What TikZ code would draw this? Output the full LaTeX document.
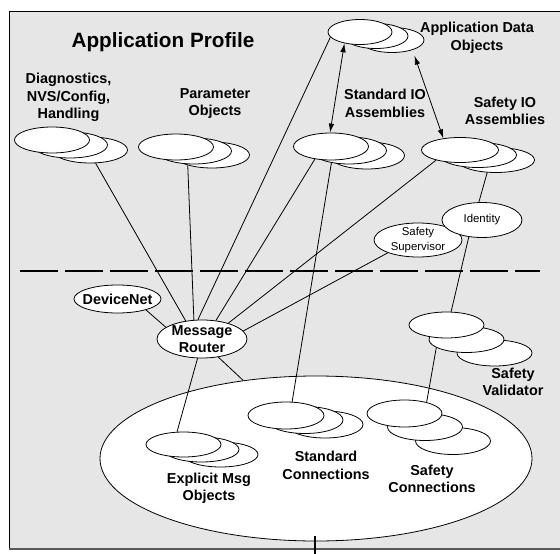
\documentclass[tikz,border=0pt]{standalone}
\usepackage{fontspec}
\setmainfont{Liberation Sans}
\usetikzlibrary{shapes.geometric,arrows.meta}
\newcommand{\ellstack}[9]{%
  \node[ell, minimum width=#4pt, minimum height=#5pt] (#13) at (#2+#8, #3+#9) {};
  \node[ell, minimum width=#4pt, minimum height=#5pt] (#12) at (#2+#6, #3+#7) {};
  \node[ell, minimum width=#4pt, minimum height=#5pt] (#11) at (#2, #3) {};
}
\begin{document}
\begin{tikzpicture}[x=1pt,y=-1pt,
  ell/.style={ellipse, draw=black, fill=white, line width=0.8pt, inner sep=0pt},
  conn/.style={line width=0.8pt},
  lbl/.style={font=\bfseries\fontsize{14.4}{17.5}\selectfont, align=center, inner sep=0pt},
  smalllbl/.style={font=\fontsize{11.4}{15}\selectfont, align=center, inner sep=0pt},
  dbl/.style={conn, {Latex[length=9pt,width=5.5pt]}-{Latex[length=9pt,width=5.5pt]}}
]
\useasboundingbox (0,0) rectangle (560,554);
% background panel
\fill[fill={rgb,255:red,230;green,230;blue,230}] (9,11) rectangle (560,549);
\draw[line width=0.8pt] (9,549) -- (9,11) -- (560,11);
\draw[line width=1.6pt, black!65] (9,549) -- (560,549);
% dashed separator
\coordinate (dashL) at (20,271);
\coordinate (dashR) at (540,271);
\draw[line width=2.6pt, dash pattern=on 38pt off 7pt] (dashL) -- (dashR);
% big connection ellipse
\node[ell, minimum width=432pt, minimum height=165pt] (big) at (316,458.5) {};
% stacks
\ellstack{dg}{52}{140}{75}{26}{18}{5}{38}{10}
\ellstack{pm}{176}{147}{75}{26}{18}{4}{36}{8}
\ellstack{ado}{360}{32}{64}{25}{16}{4}{32}{8}
\ellstack{sio}{331}{146.5}{75}{27}{18}{4}{36}{9}
\ellstack{sfio}{460}{150}{77}{25}{18}{5}{36}{10}
\ellstack{sv}{446.5}{325}{75}{26}{20}{14.5}{48}{28}
\ellstack{sc}{286}{415.5}{76}{27}{19}{4.5}{39}{9}
\ellstack{scn}{404.5}{413.5}{75}{27}{20.5}{13.5}{48.5}{27.5}
\ellstack{em}{183.5}{444.5}{75}{25}{18}{5}{37}{10}
% single ellipses
\node[ell, minimum width=87pt, minimum height=28pt] (dn) at (117.5,299) {};
\node[ell, minimum width=90pt, minimum height=38pt] (mr) at (202,339) {};
\node[ell, minimum width=88pt, minimum height=34pt] (ss) at (418,240) {};
\node[ell, minimum width=80pt, minimum height=35pt] (id) at (482,220) {};
% connectors
\draw[conn] (dg3.-67) -- (mr.132);
\draw[conn] (pm3.203) -- (mr.113);
\draw[conn] (ado1.190) -- (mr.102);
\draw[conn] (sio1.218) -- (mr.53);
\draw[conn] (sfio1.203) -- (mr.31);
\draw[conn] (ss.203) -- (mr.11);
\draw[conn] (dn.-21) -- (mr.162);
\draw[conn] (mr.-48) -- (big.133);
\draw[conn] (mr.257) -- (em1.117);
\draw[conn] (sio2.215) -- (sc1.66);
\draw[conn] (sfio3.235) -- (id.100);
\draw[conn] (id.232) -- (sv1.71);
\draw[conn] (sv2.195) -- (scn1.27);
\draw[dbl] (ado1.216) -- (sio1.94);
\draw[dbl, shorten <=6pt] (ado3.-26) -- (sfio1.145);
% bottom tick
\coordinate (tickT) at (315,536);
\coordinate (tickB) at (315,554);
\draw[line width=2.4pt] (tickT) -- (tickB);
% texts
\node[inner sep=0pt, font=\bfseries\fontsize{20.7}{24}\selectfont] (title) at (163,42) {Application Profile};
\node[lbl] (tdg) at (68.5,97.5) {Diagnostics,\\NVS/Config,\\Handling};
\node[lbl] (tpm) at (215,103.5) {Parameter\\Objects};
\node[lbl] (tado) at (477,38) {Application Data\\Objects};
\node[lbl] (tsio) at (385,103.5) {Standard IO\\Assemblies};
\node[lbl] (tsfio) at (505,111) {Safety IO\\Assemblies};
\node[lbl] (tsv) at (513,382) {Safety\\Validator};
\node[lbl] (tsc) at (326,465.5) {Standard\\Connections};
\node[lbl] (tscn) at (432,479) {Safety\\Connections};
\node[lbl] (tem) at (209,488.5) {Explicit Msg\\Objects};
\node[lbl] (tmr) at (mr) {Message\\Router};
\node[lbl] (tdn) at (dn) {DeviceNet};
\node[smalllbl] (tss) at (ss) {Safety\\Supervisor};
\node[smalllbl] (tid) at (id) {Identity};
\end{tikzpicture}
\end{document}
